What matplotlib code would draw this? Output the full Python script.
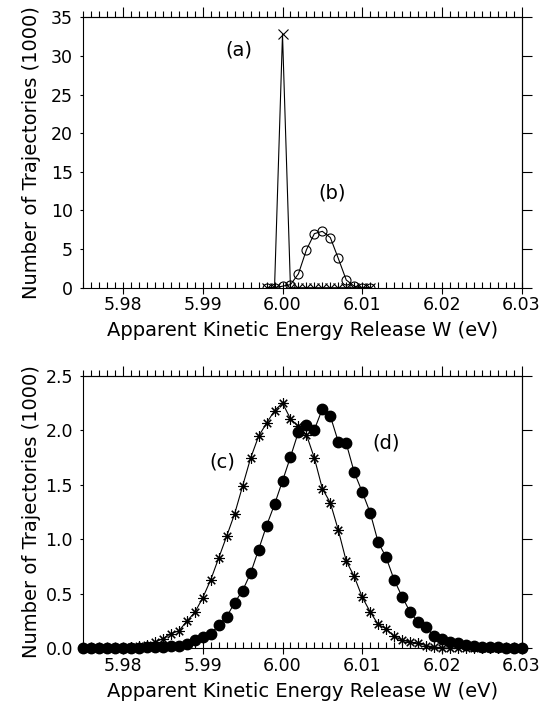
import numpy as np
import matplotlib
matplotlib.use("Agg")
import matplotlib.pyplot as plt
from matplotlib.ticker import MultipleLocator, FormatStrFormatter

# top panel: distributions (a) and (b)
w_top = [5.998, 5.999, 6.000, 6.001, 6.002, 6.003, 6.004,
         6.005, 6.006, 6.007, 6.008, 6.009, 6.010, 6.011]
n_a = [0, 0, 32.8, 0, 0, 0, 0, 0, 0, 0, 0, 0, 0, 0]
n_b = [0, 0, 0.2, 0.4, 1.8, 4.9, 7.0, 7.3, 6.5, 3.8, 1.0, 0.2, 0, 0]

# bottom panel: distributions (c) and (d)
w_bot = [5.975, 5.976, 5.977, 5.978, 5.979, 5.980, 5.981, 5.982, 5.983, 5.984,
         5.985, 5.986, 5.987, 5.988, 5.989, 5.990, 5.991, 5.992, 5.993, 5.994,
         5.995, 5.996, 5.997, 5.998, 5.999, 6.000, 6.001, 6.002, 6.003, 6.004,
         6.005, 6.006, 6.007, 6.008, 6.009, 6.010, 6.011, 6.012, 6.013, 6.014,
         6.015, 6.016, 6.017, 6.018, 6.019, 6.020, 6.021, 6.022, 6.023, 6.024,
         6.025, 6.026, 6.027, 6.028, 6.029, 6.030]
n_c = [0, 0, 0, 0, 0, 0.005, 0.01, 0.02, 0.03, 0.055,
       0.09, 0.135, 0.16, 0.25, 0.33, 0.465, 0.63, 0.83, 1.03, 1.235,
       1.49, 1.745, 1.945, 2.065, 2.18, 2.25, 2.105, 2.035, 1.96, 1.745,
       1.465, 1.335, 1.085, 0.8, 0.66, 0.47, 0.335, 0.22, 0.18, 0.11,
       0.075, 0.058, 0.045, 0.025, 0.012, 0.005, 0, 0, 0, 0,
       0, 0, 0, 0, 0, 0]
n_d = [0, 0, 0, 0, 0, 0, 0.003, 0.005, 0.008, 0.01,
       0.015, 0.02, 0.025, 0.04, 0.08, 0.10, 0.13, 0.215, 0.29, 0.42,
       0.53, 0.69, 0.905, 1.125, 1.32, 1.535, 1.755, 1.985, 2.045, 2.005,
       2.195, 2.13, 1.895, 1.88, 1.615, 1.435, 1.245, 0.975, 0.835, 0.63,
       0.475, 0.335, 0.24, 0.2, 0.11, 0.09, 0.06, 0.045, 0.03, 0.02,
       0.015, 0.01, 0.008, 0.005, 0.003, 0]

xlabel = "Apparent Kinetic Energy Release W (eV)"
ylabel = "Number of Trajectories (1000)"

fs = 12.5      # tick labels
fs_lab = 14    # axis titles
lw = 0.8
fig = plt.figure(figsize=(5.41, 7.04), dpi=100)


def style_axes(ax, ymax, ystep, yfmt):
    ax.set_xlim(5.975, 6.030)
    ax.set_ylim(0, ymax)
    ax.xaxis.set_major_locator(MultipleLocator(0.01))
    ax.xaxis.set_minor_locator(MultipleLocator(0.001))
    ax.xaxis.set_major_formatter(FormatStrFormatter('%.2f'))
    ax.yaxis.set_major_locator(MultipleLocator(ystep))
    ax.yaxis.set_major_formatter(FormatStrFormatter(yfmt))
    ax.tick_params(axis='x', which='major', direction='inout', length=8,
                   width=lw, labelsize=fs, pad=2)
    ax.tick_params(axis='x', which='minor', direction='in', length=4, width=lw)
    ax.tick_params(axis='y', which='major', direction='out', length=2.5,
                   width=lw, labelsize=fs, pad=5)
    for s in ax.spines.values():
        s.set_linewidth(lw)
    # top axis: ticks pointing outward, no labels
    top = ax.secondary_xaxis('top')
    top.xaxis.set_major_locator(MultipleLocator(0.01))
    top.xaxis.set_minor_locator(MultipleLocator(0.001))
    top.tick_params(which='major', direction='out', length=7, width=lw,
                    labeltop=False)
    top.tick_params(which='minor', direction='out', length=4, width=lw)
    top.spines['top'].set_linewidth(lw)
    # right axis: ticks outward, no labels
    right = ax.secondary_yaxis('right')
    right.yaxis.set_major_locator(MultipleLocator(ystep))
    right.tick_params(which='major', direction='out', length=7, width=lw,
                      labelright=False)
    right.spines['right'].set_linewidth(lw)
    ax.set_xlabel(xlabel, fontsize=fs_lab)
    ax.set_ylabel(ylabel, fontsize=fs_lab)
    ax.xaxis.set_label_coords(0.5, -0.157)
    ax.yaxis.set_label_coords(-0.119, 0.5)
    ax.xaxis.label.set_va('center')
    ax.yaxis.label.set_va('center')


ax1 = fig.add_axes([0.154, 0.5913, 0.810, 0.3841])
ax1.plot(w_top, n_a, color='black', lw=lw, marker='x', ms=6.7, mew=lw)
ax1.plot(w_top, n_b, color='black', lw=lw, marker='o', ms=6.5, mfc='none', mew=lw)
style_axes(ax1, 35, 5, '%d')
ax1.text(5.9945, 30.8, "(a)", fontsize=14, ha='center', va='center')
ax1.text(6.0062, 12.3, "(b)", fontsize=14, ha='center', va='center')

ax2 = fig.add_axes([0.154, 0.0791, 0.810, 0.3872])
ax2.plot(w_bot, n_c, color='black', lw=lw, marker=(8, 2, 0), ms=7.5, mew=lw,
         clip_on=False)
ax2.plot(w_bot, n_d, color='black', lw=lw, marker='o', ms=7.5, mfc='black',
         clip_on=False)
style_axes(ax2, 2.5, 0.5, '%.1f')
ax2.text(5.9924, 1.71, "(c)", fontsize=14, ha='center', va='center')
ax2.text(6.013, 1.88, "(d)", fontsize=14, ha='center', va='center')

fig.savefig("out.png", dpi=100)
